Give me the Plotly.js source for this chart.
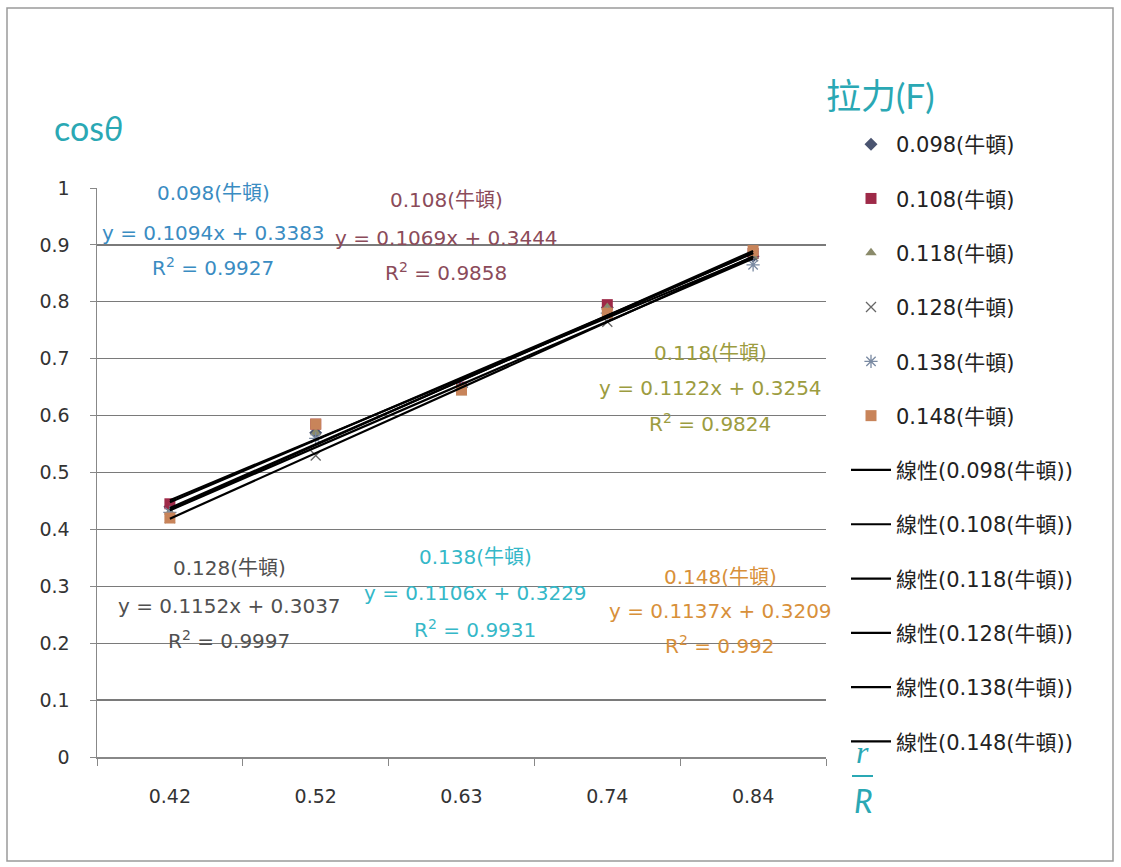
<!DOCTYPE html>
<html>
<head>
<meta charset="utf-8">
<script src="https://cdn.plot.ly/plotly-3.0.1.min.js"></script>
<style>
html,body{margin:0;padding:0;background:#fff;}
#chart{width:1121px;height:867px;}
</style>
</head>
<body>
<div id="chart"></div>
<script>
// ---- data ----
const categories = ["0.42", "0.52", "0.63", "0.74", "0.84"];
const seriesNames = ["0.098(牛頓)", "0.108(牛頓)", "0.118(牛頓)", "0.128(牛頓)", "0.138(牛頓)", "0.148(牛頓)"];
const y098 = [0.44, 0.57, 0.65, 0.79, 0.88];
const y108 = [0.445, 0.585, 0.65, 0.795, 0.885];
const y118 = [0.43, 0.57, 0.64, 0.79, 0.88];
const y128 = [0.42, 0.53, 0.65, 0.765, 0.88];
const y138 = [0.43, 0.56, 0.65, 0.78, 0.865];
const y148 = [0.42, 0.585, 0.645, 0.78, 0.89];
const seriesValues = [y098, y108, y118, y128, y138, y148];
// trendline equations (x = category index 1..5)
const slopes = [0.1094, 0.1069, 0.1122, 0.1152, 0.1106, 0.1137];
const intercepts = [0.3383, 0.3444, 0.3254, 0.3037, 0.3229, 0.3209];
const rSquared = ["0.9927", "0.9858", "0.9824", "0.9997", "0.9931", "0.992"];

// ---- styles ----
const FONT = "'DejaVu Sans', 'Noto Sans CJK TC', sans-serif";
const TFONT = "Lato, 'Noto Sans CJK TC', sans-serif";
const TEAL = "#2aa8b4";
const markerSymbols = ["diamond", "square", "triangle-up", "x-thin-open", "asterisk-open", "square"];
const markerColors = ["#4a5470", "#9e2a48", "#8a8a6a", "#666666", "#7a8aa2", "#c8845a"];
const markerSizes = [10, 11, 10, 10, 11, 11];
const labelColors = ["#3a8cc2", "#8b4b5a", "#9c9c40", "#505050", "#35b8c8", "#d8903a"];
// label block placement (pixel): centre x, and y of the three lines
const labelX = [213, 446, 710, 229, 475, 720];
const labelY = [[193, 233, 267], [200, 238, 272], [353, 388, 423], [568, 606, 640], [557, 593, 629], [577, 611, 645]];

const L = 97, T = 188, W = 729, H = 569;
const px = x => (x - L) / W;
const py = y => (T + H - y) / H;

const traces = [];
seriesNames.forEach((name, i) => {
  const isLine = markerSymbols[i].indexOf("open") >= 0;
  traces.push({
    type: "scatter", mode: "markers", name: name,
    x: categories, y: seriesValues[i],
    legendgroup: "m" + i,
    marker: {symbol: markerSymbols[i], size: markerSizes[i], color: markerColors[i],
             line: {color: markerColors[i], width: isLine ? 1.3 : 0}},
    cliponaxis: false
  });
});
seriesNames.forEach((name, i) => {
  traces.push({
    type: "scatter", mode: "lines", name: "線性(" + name + ")",
    x: categories, y: categories.map((c, k) => slopes[i] * (k + 1) + intercepts[i]),
    legendgroup: "t" + i,
    line: {color: "#000", width: 2.2}
  });
});

const annotations = [];
seriesNames.forEach((name, i) => {
  const lines = [name,
    "y = " + slopes[i].toFixed(4) + "x + " + intercepts[i].toFixed(4),
    "R<sup>2</sup> = " + rSquared[i]];
  lines.forEach((t, k) => {
    annotations.push({xref: "paper", yref: "paper", x: px(labelX[i]), y: py(labelY[i][k]),
      text: t, showarrow: false, xanchor: "center", yanchor: "middle",
      font: {family: FONT, size: 20, color: labelColors[i]}});
  });
});
// axis titles and legend title
annotations.push({xref: "paper", yref: "paper", x: px(52), y: py(127), xanchor: "left", yanchor: "middle",
  text: "cos<i>θ</i>", showarrow: false, font: {family: TFONT, size: 34, color: TEAL}});
annotations.push({xref: "paper", yref: "paper", x: px(824), y: py(95), xanchor: "left", yanchor: "middle",
  text: "拉力(F)", showarrow: false, font: {family: TFONT, size: 35, color: TEAL}});
annotations.push({xref: "paper", yref: "paper", x: px(862), y: py(752), xanchor: "center", yanchor: "middle",
  text: "<i>r</i>", showarrow: false, font: {family: "Liberation Serif, serif", size: 32, color: TEAL}});
annotations.push({xref: "paper", yref: "paper", x: px(863), y: py(800), xanchor: "center", yanchor: "middle",
  text: "<i>R</i>", showarrow: false, font: {family: TFONT, size: 32, color: TEAL}});

const shapes = [
  {type: "line", xref: "paper", yref: "paper", x0: px(852), x1: px(873), y0: py(776), y1: py(776),
   line: {color: TEAL, width: 2}},
  {type: "rect", xref: "paper", yref: "paper", x0: px(7), x1: px(1113), y0: py(8), y1: py(861),
   line: {color: "#9a9a9a", width: 1.5}, layer: "below"}
];

const layout = {
  width: 1121, height: 867,
  margin: {l: L, r: 1121 - L - W, t: T, b: 867 - T - H},
  paper_bgcolor: "#fff", plot_bgcolor: "#fff",
  font: {family: FONT, size: 16, color: "#333"},
  showlegend: true,
  legend: {
    x: px(846), y: py(124), xanchor: "left", yanchor: "top",
    font: {family: FONT, size: 21, color: "#222"},
    tracegroupgap: 24, itemwidth: 40, bgcolor: "rgba(0,0,0,0)", maxheight: 820
  },
  xaxis: {
    type: "category", categoryorder: "array", categoryarray: categories,
    range: [-0.5, 4.5], tickson: "boundaries", ticks: "outside", ticklen: 7, tickcolor: "#888",
    showline: true, linecolor: "#888", linewidth: 1.5, showgrid: false, zeroline: false,
    ticklabelstandoff: 22, tickfont: {family: FONT, size: 19, color: "#333"}
  },
  yaxis: {
    range: [0, 1], dtick: 0.1, tick0: 0, ticks: "outside", ticklen: 6, tickcolor: "#888",
    showline: true, linecolor: "#888", linewidth: 1.5, showgrid: true, gridcolor: "#7a7a7a", gridwidth: 1.2,
    zeroline: false, ticklabelstandoff: 16, tickfont: {family: FONT, size: 19, color: "#333"}
  },
  annotations: annotations,
  shapes: shapes
};

Plotly.newPlot("chart", traces, layout, {displayModeBar: false, staticPlot: true});
</script>
</body>
</html>
